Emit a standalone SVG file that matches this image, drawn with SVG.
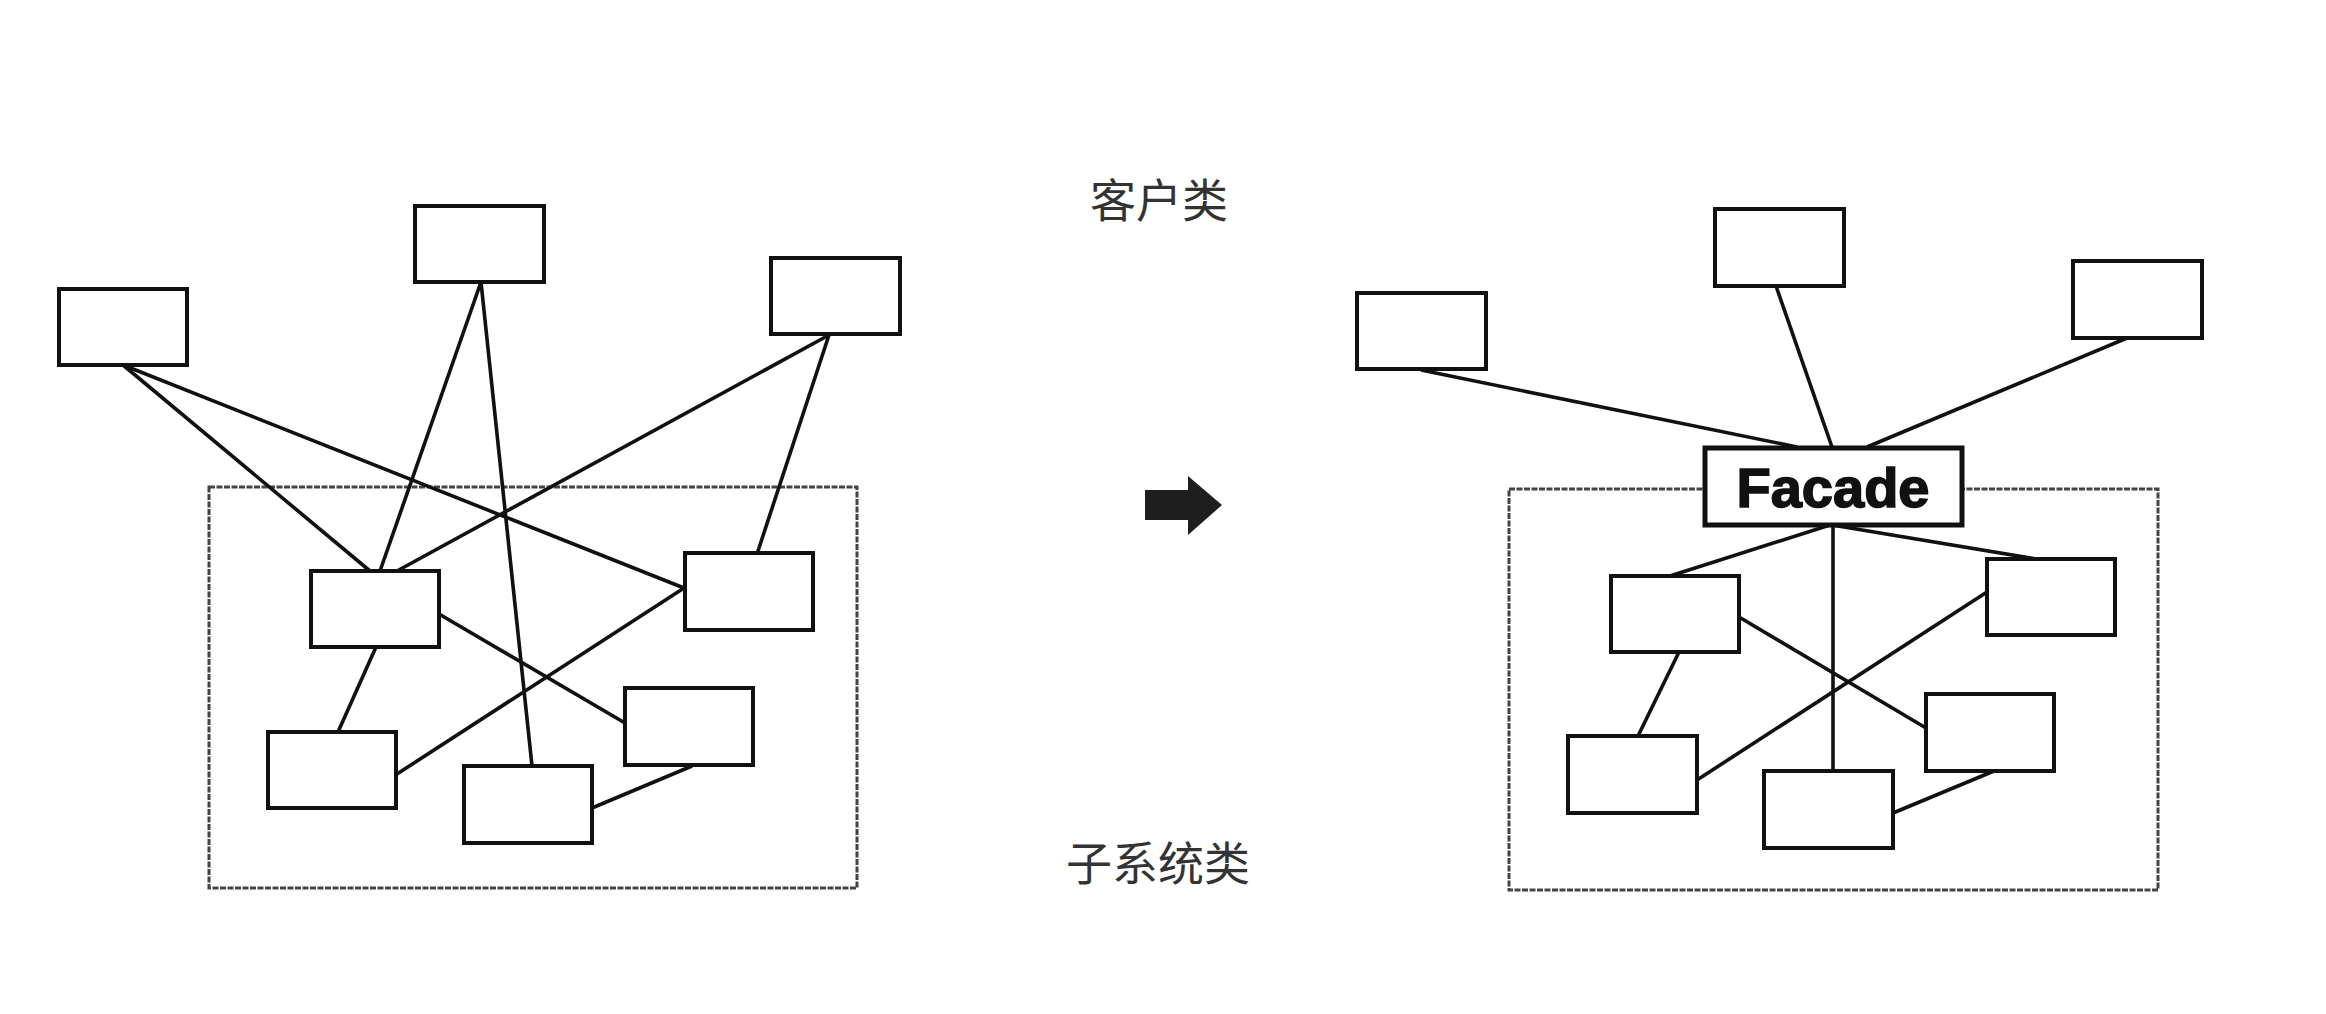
<svg xmlns="http://www.w3.org/2000/svg" width="2326" height="1014" viewBox="0 0 2326 1014">
<style>
.box{fill:#fff;stroke:#111;stroke-width:4}
.frame{fill:none;stroke:#444;stroke-width:3;stroke-dasharray:6 1.5}
.ln{stroke:#111;stroke-width:3.6;fill:none}
.cjk{font-family:"Noto Sans CJK SC","Noto Sans",sans-serif;font-size:46px;fill:#333;text-anchor:middle}
.fac{fill:#fff;stroke:#111;stroke-width:5}
.factxt{font-family:"Liberation Sans",Arial,sans-serif;font-weight:bold;font-size:56px;fill:#111;stroke:#111;stroke-width:1.6;text-anchor:middle}
</style>
<rect width="2326" height="1014" fill="#fff"/>
<g id="frame-left"><rect class="frame" x="209" y="487" width="648" height="401"/></g>
<g id="frame-right"><rect class="frame" x="1509" y="489" width="649" height="401"/></g>
<g id="connectors">
<line class="ln" x1="123" y1="365" x2="370" y2="571"/>
<line class="ln" x1="123" y1="365" x2="684" y2="588"/>
<line class="ln" x1="481" y1="282" x2="380" y2="571"/>
<line class="ln" x1="481" y1="282" x2="532" y2="766"/>
<line class="ln" x1="829" y1="335" x2="397" y2="571"/>
<line class="ln" x1="829" y1="335" x2="757" y2="554"/>
<line class="ln" x1="376" y1="647" x2="338" y2="732"/>
<line class="ln" x1="439" y1="614" x2="625" y2="723"/>
<line class="ln" x1="684" y1="588" x2="397" y2="774"/>
<line class="ln" x1="692" y1="766" x2="592" y2="808"/>
<line class="ln" x1="1421" y1="370" x2="1797" y2="447"/>
<line class="ln" x1="1776" y1="286" x2="1832" y2="447"/>
<line class="ln" x1="2127" y1="338" x2="1867" y2="447"/>
<line class="ln" x1="1830" y1="525" x2="1670" y2="576"/>
<line class="ln" x1="1832" y1="525" x2="2042" y2="560"/>
<line class="ln" x1="1833" y1="525" x2="1833" y2="771"/>
<line class="ln" x1="1679" y1="652" x2="1638" y2="736"/>
<line class="ln" x1="1739" y1="617" x2="1926" y2="728"/>
<line class="ln" x1="1987" y1="592" x2="1697" y2="780"/>
<line class="ln" x1="1994" y1="771" x2="1893" y2="813"/>
</g>
<g id="L-client-1"><rect class="box" x="59" y="289" width="128" height="76"/></g>
<g id="L-client-2"><rect class="box" x="415" y="206" width="129" height="76"/></g>
<g id="L-client-3"><rect class="box" x="771" y="258" width="129" height="76"/></g>
<g id="L-sub-1"><rect class="box" x="311" y="571" width="128" height="76"/></g>
<g id="L-sub-2"><rect class="box" x="685" y="553" width="128" height="77"/></g>
<g id="L-sub-3"><rect class="box" x="625" y="688" width="128" height="77"/></g>
<g id="L-sub-4"><rect class="box" x="268" y="732" width="128" height="76"/></g>
<g id="L-sub-5"><rect class="box" x="464" y="766" width="128" height="77"/></g>
<g id="R-client-1"><rect class="box" x="1357" y="293" width="129" height="76"/></g>
<g id="R-client-2"><rect class="box" x="1715" y="209" width="129" height="77"/></g>
<g id="R-client-3"><rect class="box" x="2073" y="261" width="129" height="77"/></g>
<g id="R-sub-1"><rect class="box" x="1611" y="576" width="128" height="76"/></g>
<g id="R-sub-2"><rect class="box" x="1987" y="559" width="128" height="76"/></g>
<g id="R-sub-3"><rect class="box" x="1926" y="694" width="128" height="77"/></g>
<g id="R-sub-4"><rect class="box" x="1568" y="736" width="129" height="77"/></g>
<g id="R-sub-5"><rect class="box" x="1764" y="771" width="129" height="77"/></g>
<g id="facade"><rect class="fac" x="1705" y="448" width="257" height="77"/><text class="factxt" x="1833" y="507">Facade</text></g>
<g id="arrow"><path d="M1145 490 H1188 V476 L1222 505 L1188 535 V520 H1145 Z" fill="#1e1e1e"/></g>
<g id="label-client"><text class="cjk" x="1159" y="217">客户类</text></g>
<g id="label-sub"><text class="cjk" x="1158" y="880">子系统类</text></g>
</svg>
